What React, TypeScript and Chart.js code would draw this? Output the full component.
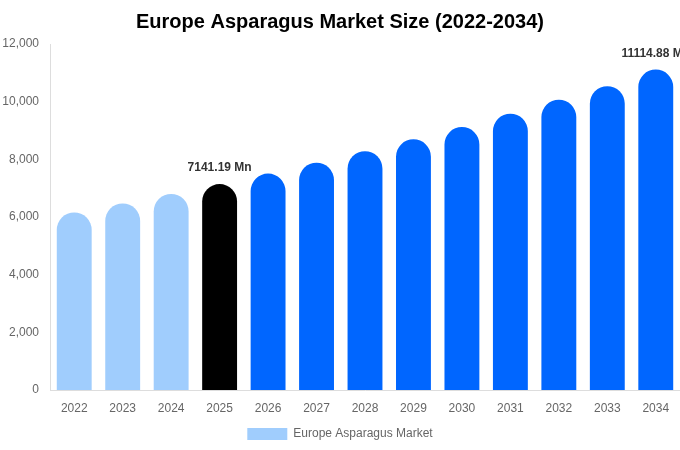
import { useEffect, useRef } from 'react';
import { Chart, registerables } from 'chart.js';

Chart.register(...registerables);

const years = ['2022', '2023', '2024', '2025', '2026', '2027', '2028', '2029', '2030', '2031', '2032', '2033', '2034'];
const marketSize = [6160, 6470, 6800, 7141.19, 7505, 7885, 8280, 8695, 9120, 9585, 10070, 10535, 11114.88];
const barColors = [
  '#a0cdfd', '#a0cdfd', '#a0cdfd', '#000000',
  '#0066ff', '#0066ff', '#0066ff', '#0066ff', '#0066ff',
  '#0066ff', '#0066ff', '#0066ff', '#0066ff',
];
// only these bars get a value label above them
const labelledIdx = [3, 12];

const FONT = '"Liberation Sans", Arial, sans-serif';

const valueLabels = {
  id: 'valueLabels',
  afterDatasetsDraw(chart: Chart) {
    const ctx = chart.ctx;
    const meta = chart.getDatasetMeta(0);
    ctx.save();
    ctx.font = `bold 12px ${FONT}`;
    ctx.fillStyle = '#333333';
    ctx.textAlign = 'center';
    ctx.textBaseline = 'bottom';
    labelledIdx.forEach((i) => {
      const bar: any = meta.data[i];
      ctx.fillText(`${marketSize[i].toFixed(2)} Mn`, bar.x, bar.y - 10);
    });
    ctx.restore();
  },
};

export default function App() {
  const canvasRef = useRef<HTMLCanvasElement>(null);
  const chartRef = useRef<Chart | null>(null);

  useEffect(() => {
    document.body.style.margin = '0';
    if (!canvasRef.current) return;
    if (chartRef.current) chartRef.current.destroy();

    chartRef.current = new Chart(canvasRef.current, {
      type: 'bar',
      data: {
        labels: years,
        datasets: [
          {
            label: 'Europe Asparagus Market',
            data: marketSize,
            backgroundColor: barColors,
            borderRadius: { topLeft: 100, topRight: 100, bottomLeft: 0, bottomRight: 0 },
            borderSkipped: false,
          },
        ],
      },
      options: {
        responsive: false,
        animation: false,
        layout: { padding: 0 },
        plugins: {
          title: {
            display: true,
            text: 'Europe Asparagus Market Size (2022-2034)',
            color: '#000000',
            font: { family: FONT, size: 20, weight: 'bold' },
            padding: { top: 10, bottom: 10 },
          },
          legend: {
            position: 'bottom',
            labels: {
              color: '#666666',
              font: { family: FONT, size: 12 },
              boxWidth: 40,
              boxHeight: 12,
              generateLabels: () => [
                {
                  text: 'Europe Asparagus Market',
                  fillStyle: '#a0cdfd',
                  strokeStyle: '#a0cdfd',
                  lineWidth: 0,
                  fontColor: '#666666',
                  datasetIndex: 0,
                  hidden: false,
                },
              ],
            },
          },
          tooltip: { enabled: false },
        },
        scales: {
          x: {
            grid: { display: false },
            border: { display: true, color: '#dddddd' },
            ticks: { color: '#666666', font: { family: FONT, size: 12 }, padding: 3 },
            afterFit: (s) => {
              s.height = 28;
            },
          },
          y: {
            min: 0,
            max: 12000,
            grid: { display: false },
            border: { display: true, color: '#dddddd' },
            ticks: {
              stepSize: 2000,
              color: '#666666',
              font: { family: FONT, size: 12 },
              padding: 3,
              callback: (v) => Number(v).toLocaleString('en-US'),
            },
            afterFit: (s) => {
              s.width = 50;
            },
          },
        },
      },
      plugins: [valueLabels],
    });

    return () => {
      if (chartRef.current) {
        chartRef.current.destroy();
        chartRef.current = null;
      }
    };
  }, []);

  return (
    <div style={{ width: 680, height: 450 }}>
      <canvas ref={canvasRef} width={680} height={450}></canvas>
    </div>
  );
}
